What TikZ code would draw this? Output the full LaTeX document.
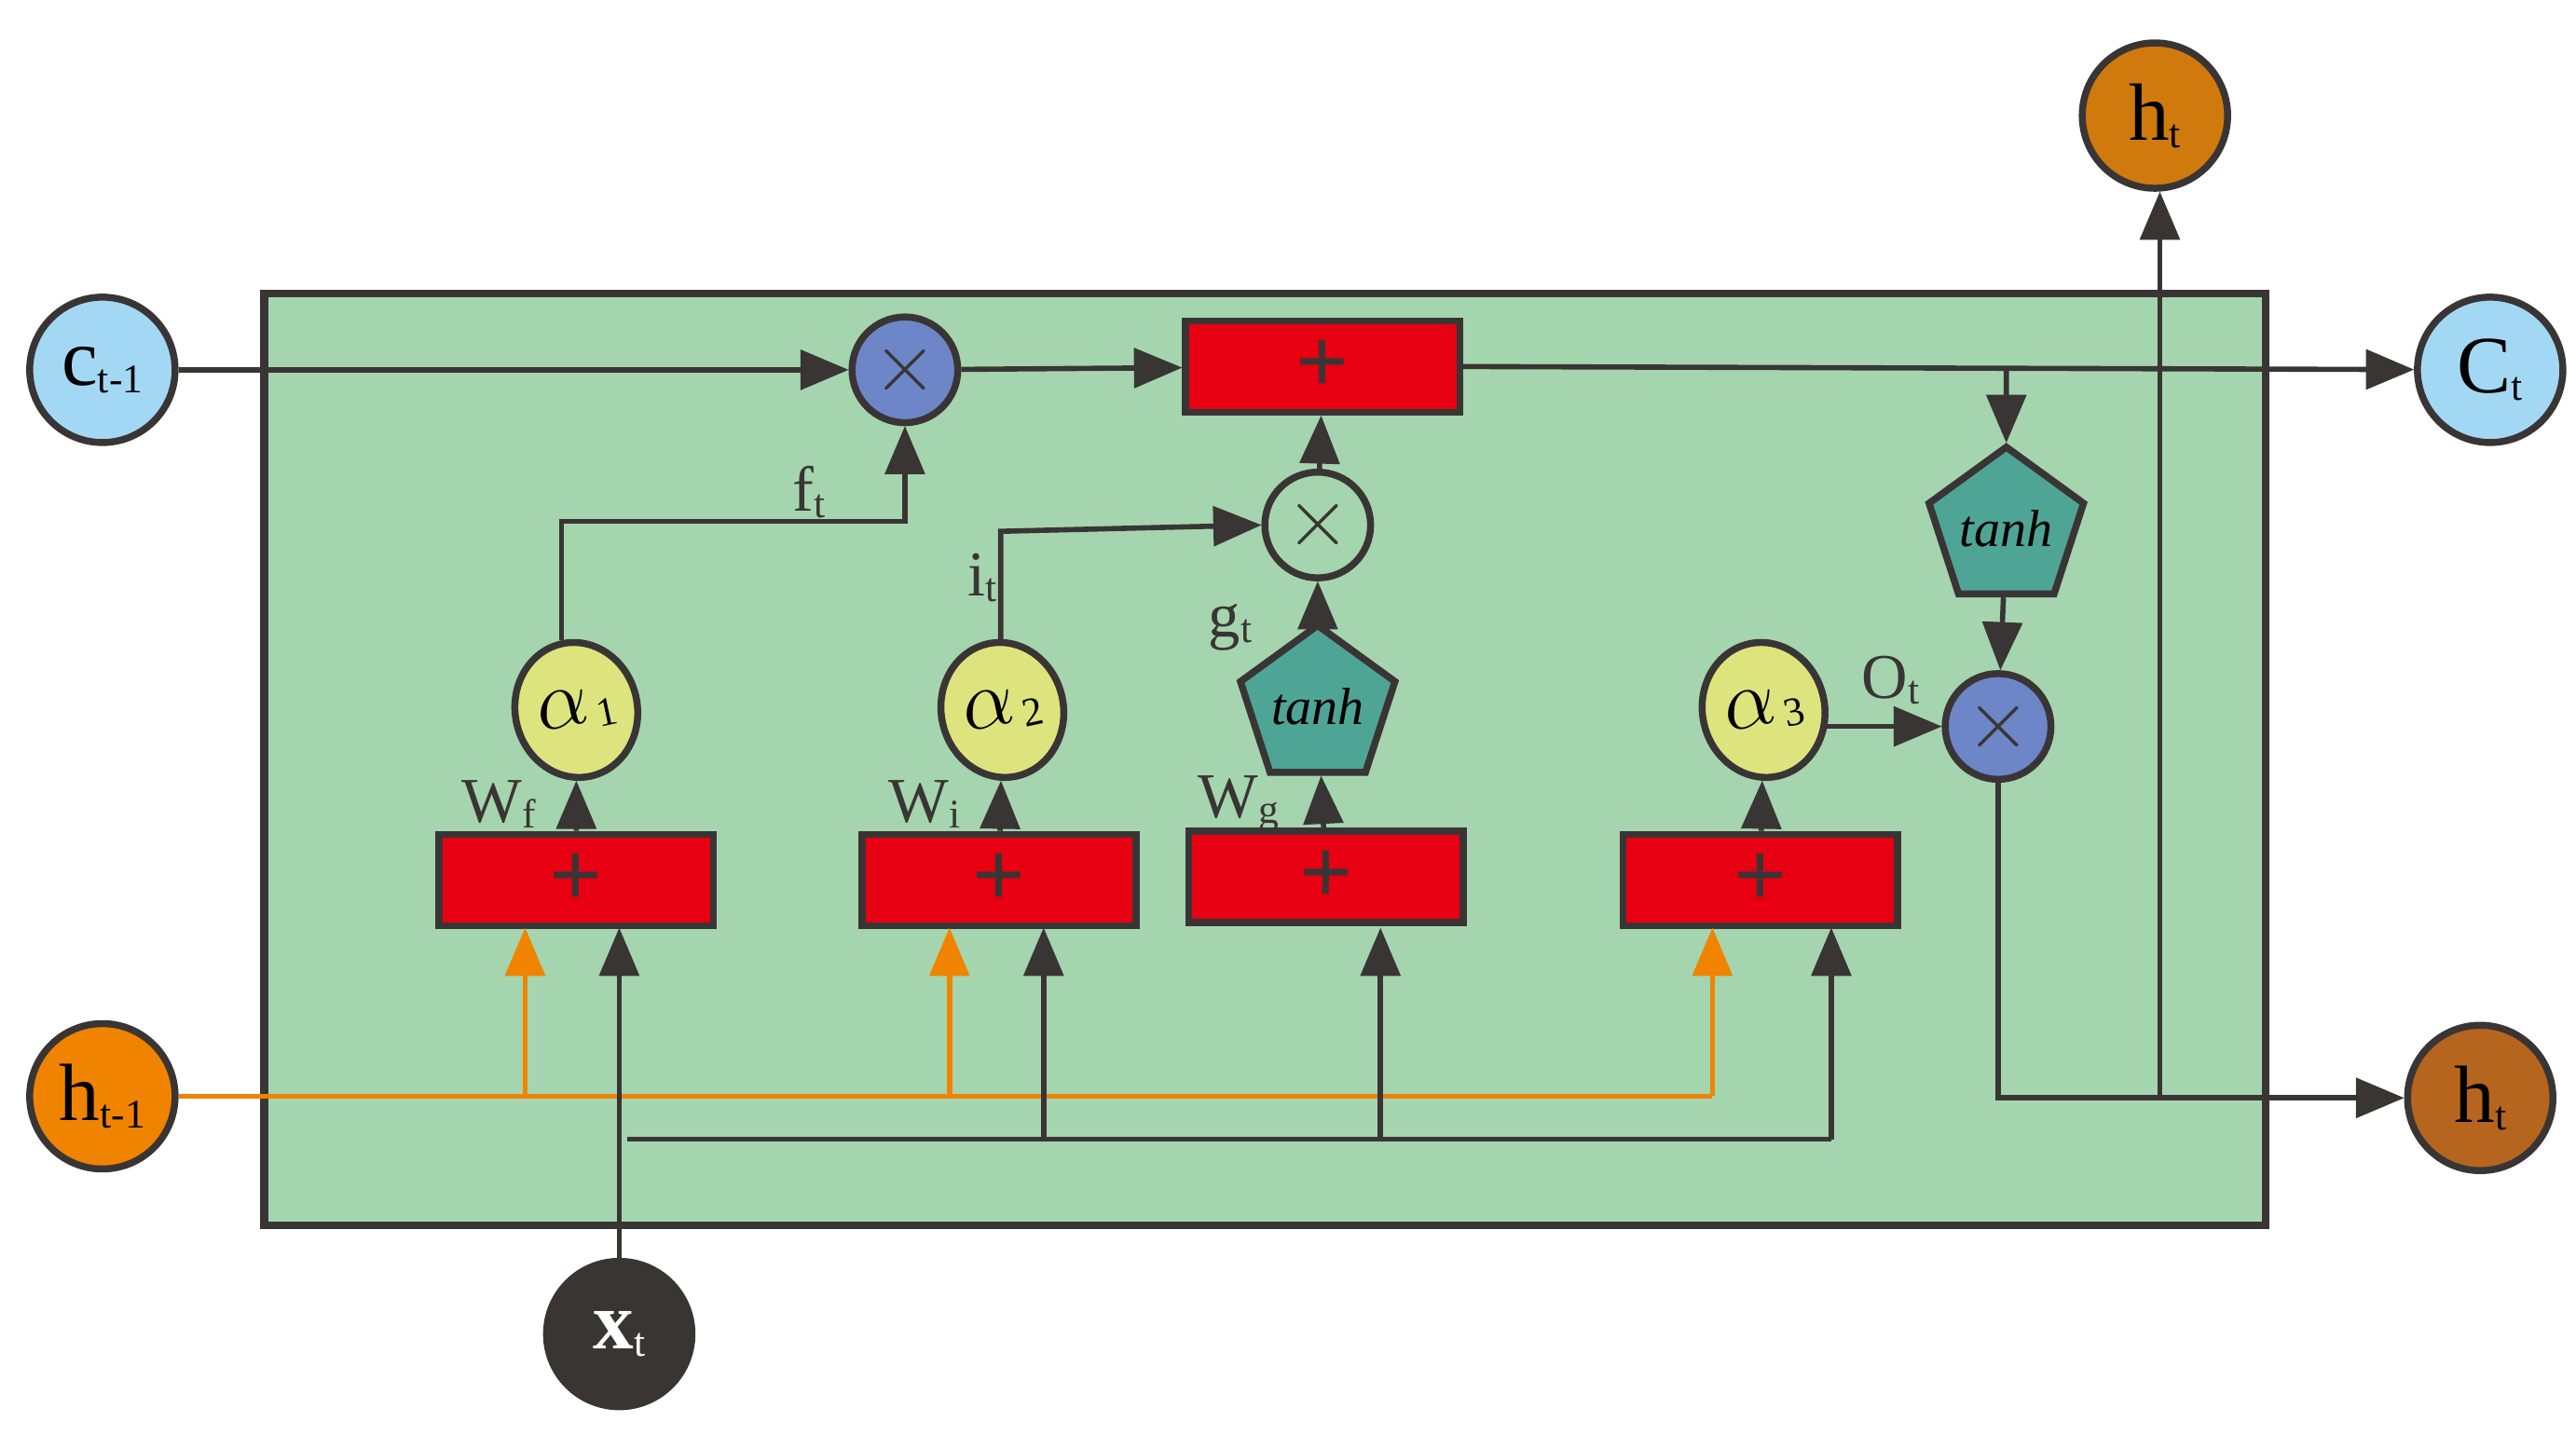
\documentclass[tikz,border=0pt]{standalone}
\usepackage{fontspec}
\setmainfont{Liberation Serif}
\usepackage{xcolor}
\usetikzlibrary{shapes.geometric, arrows}
\definecolor{cellgreen}{HTML}{A5D5AE}
\definecolor{inblue}{HTML}{A3D8F4}
\definecolor{hotred}{HTML}{E60012}
\definecolor{opblue}{HTML}{6C86C8}
\definecolor{tanhteal}{HTML}{4FA595}
\definecolor{sigyellow}{HTML}{DDE47D}
\definecolor{hprev}{HTML}{F08300}
\definecolor{htop}{HTML}{D07A0E}
\definecolor{hout}{HTML}{B5651D}
\definecolor{ink}{HTML}{3A3535}
\tikzstyle{state} = [circle, minimum size=0.88cm, inner sep=0pt, draw=ink, line width=1.2pt, font=\fontsize{14}{14}\selectfont]
\tikzstyle{adder} = [rectangle, minimum width=1.66cm, minimum height=0.55cm, draw=ink, line width=1.2pt, fill=hotred, font=\fontsize{16}{16}\selectfont\bfseries, text=ink]
\tikzstyle{mult} = [circle, minimum size=0.64cm, inner sep=0pt, draw=ink, line width=1.2pt, font=\fontsize{14}{14}\selectfont\bfseries, text=ink]
\tikzstyle{act} = [regular polygon, regular polygon sides=5, minimum size=0.9cm, inner sep=0pt, draw=ink, line width=1.2pt, fill=tanhteal, font=\fontsize{9}{9}\selectfont\itshape]
\tikzstyle{gate} = [ellipse, rotate=12, minimum width=0.74cm, minimum height=0.82cm, inner sep=0pt, draw=ink, line width=1.2pt, fill=sigyellow, font=\fontsize{14}{14}\selectfont]
\tikzstyle{lbl} = [font=\fontsize{11}{11}\selectfont, text=ink]
\tikzstyle{arrow} = [line width=0.9pt, draw=ink, ->, >=triangle 45]
\newcommand{\sub}[1]{\raisebox{-0.2ex}{\fontsize{7}{7}\selectfont #1}}
\begin{document}
\begin{tikzpicture}[x=0.01cm, y=-0.01cm]
\useasboundingbox (0,0) rectangle (1560,869);
\draw[draw=ink, line width=1.3pt, fill=cellgreen] (160,178) rectangle (1372,742);
% outer states
\node (cprev) [state, fill=inblue] at (62,224) {c\sub{t-1}};
\node (cnext) [state, fill=inblue] at (1508,224) {C\sub{t}};
\node (hup) [state, fill=htop] at (1305,70) {h\sub{t}};
\node (hnext) [state, fill=hout] at (1502,665) {h\sub{t}};
\node (hin) [state, fill=hprev] at (62,664) {h\sub{t-1}};
\node (xin) [state, fill=ink, text=white] at (375,808) {\textbf{x}\sub{t}};
% cell line
\node (fmul) [mult, fill=opblue] at (548,224) {$\times$};
\node (cadd) [adder] at (801,222) {+};
\node (imul) [mult] at (798,318) {$\times$};
\node (gtanh) [act] at (798,428) {tanh};
\node (ctanh) [act] at (1215,320) {tanh};
\node (omul) [mult, fill=opblue] at (1210,440) {$\times$};
% gate sums
\node (sf) [adder] at (349,533) {+};
\node (si) [adder] at (605,533) {+};
\node (sg) [adder] at (803,531) {+};
\node (so) [adder] at (1066,533) {+};
\node (af) [gate] at (349,430) {$\alpha$\kern1pt\sub{1}};
\node (ai) [gate] at (607,430) {$\alpha$\kern1pt\sub{2}};
\node (ao) [gate] at (1068,430) {$\alpha$\kern1pt\sub{3}};
% labels
\node [lbl] at (302,487) {W\sub{f}};
\node [lbl] at (560,487) {W\sub{i}};
\node [lbl] at (750,487) {W\sub{g}};
\node [lbl] at (490,298) {f\sub{t}};
\node [lbl] at (595,350) {i\sub{t}};
\node [lbl] at (745,380) {g\sub{t}};
\node [lbl] at (1145,412) {O\sub{t}};
% top flow
\draw [arrow] (cprev) -- (fmul);
\draw [arrow] (fmul) -- (cadd);
\draw [arrow] (cadd.east) -- (cnext);
\coordinate (cbr) at (1215,223);
\draw [arrow] (cbr) -- (ctanh);
\draw [arrow] (ctanh) -- (omul);
\coordinate (ocor) at (1210,665);
\coordinate (hbr) at (1308,665);
\draw [arrow] (omul) -- (ocor) -- (hnext);
\draw [arrow] (hbr) -- (hbr |- hup.south);
\draw [arrow] (af.north) -- ++(0,-72) -| (fmul);
\draw [arrow] (ai.north) ++(8,0) -- ++(0,-66) -- (imul.west);
\draw [arrow] (imul) -- (cadd);
\draw [arrow] (gtanh) -- (imul);
\draw [arrow] (ao.east |- omul.west) -- (omul.west);
\draw [arrow] (sf) -- (af);
\draw [arrow] (si) -- (ai);
\draw [arrow] (sg) -- (gtanh);
\draw [arrow] (so) -- (ao);
% h_{t-1} feed
\draw [line width=0.9pt, draw=hprev] (hin) -- (1037,664);
\foreach \xx in {318,575,1037}
  \draw [line width=0.9pt, draw=hprev, ->, >=triangle 45] (\xx,664) -- (\xx,562);
% x_t feed
\draw [arrow] (xin) -- (375,562);
\draw [line width=0.9pt, draw=ink] (380,690) -- (1109,690);
\foreach \xx in {632,836,1109}
  \draw [arrow] (\xx,690) -- (\xx,562);
\end{tikzpicture}
\end{document}
